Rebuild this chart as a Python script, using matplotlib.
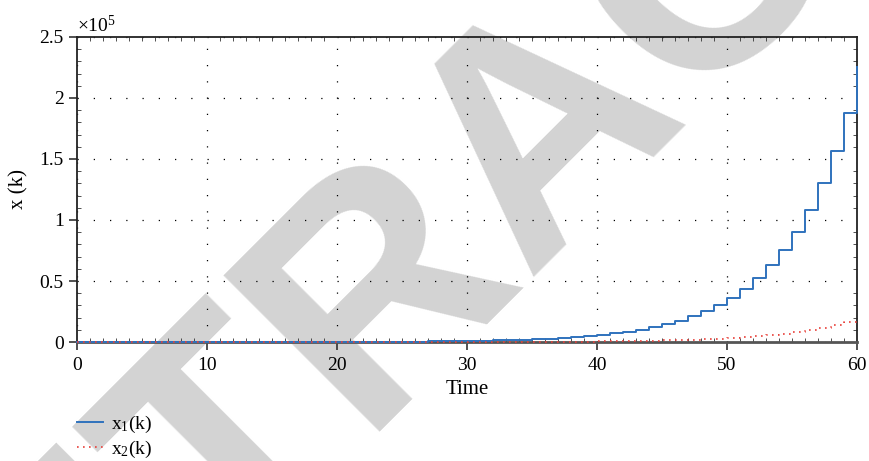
import numpy as np
import matplotlib
matplotlib.use("Agg")
import matplotlib.pyplot as plt
from matplotlib.ticker import MultipleLocator, FuncFormatter

plt.rcParams['font.family'] = ['Liberation Serif', 'DejaVu Serif']
plt.rcParams['mathtext.default'] = 'regular'
plt.rcParams['mathtext.fontset'] = 'custom'
plt.rcParams['mathtext.rm'] = 'Liberation Serif'

# time steps k = 0..60
k = list(range(61))

# x1(k)
x1 = [4, 5, 6, 7, 8, 10, 12, 14, 17, 21,
      25, 30, 36, 43, 51, 62, 74, 89, 106, 128,
      153, 184, 220, 265, 318, 381, 457, 549, 658, 790,
      948, 1138, 1365, 1638, 1966, 2359, 2830, 3396, 4076, 4891,
      5869, 7043, 8451, 10141, 12170, 14604, 17524, 21029, 25235, 30282,
      36339, 43606, 52328, 62793, 75352, 90422, 108507, 130208, 156250, 187500,
      225000]

# x2(k)
x2 = [1, 1, 1, 1, 1, 1, 1, 1, 2, 2,
      2, 3, 3, 4, 4, 5, 7, 8, 9, 11,
      14, 16, 20, 23, 28, 34, 40, 49, 58, 70,
      84, 101, 121, 145, 175, 210, 250, 300, 360, 430,
      520, 630, 750, 900, 1080, 1300, 1560, 1870, 2240, 2690,
      3230, 3880, 4650, 5580, 6700, 8040, 9650, 11600, 13900, 16700,
      20000]

xticks = [0, 10, 20, 30, 40, 50, 60]
yticks = [0, 0.5e5, 1e5, 1.5e5, 2e5, 2.5e5]

fig = plt.figure(figsize=(8.7, 4.61), dpi=100)
ax = fig.add_axes([0.0885, 0.258, 0.8965, 0.662])
ax.patch.set_alpha(0)

# watermark behind everything
fig.text(-0.1088, -0.9185, 'RETRACTED', rotation=45, fontsize=231, color='#d3d3d3',
         fontweight='bold', family='Liberation Sans', ha='left', va='baseline',
         rotation_mode='anchor', zorder=-10)

ax.plot(k, x1, drawstyle='steps-post', color='#2f72bd', lw=1.4,
        label='x$_1$(k)', zorder=3, clip_on=False)
ax.plot(k, x2, drawstyle='steps-post', color='#e8403a', lw=1.2,
        linestyle=(0, (1, 2.6)), label='x$_2$(k)', zorder=3, clip_on=False)

ax.set_xlim(0, 60)
ax.set_ylim(0, 2.5e5)
ax.set_xticks(xticks)
ax.set_yticks(yticks)
ax.xaxis.set_minor_locator(MultipleLocator(1))
ax.yaxis.set_minor_locator(MultipleLocator(0.1e5))
ax.yaxis.set_major_formatter(FuncFormatter(lambda v, p: '{:g}'.format(v / 1e5)))
ax.text(0.0, 1.003, r'$\times10^{5}$', transform=ax.transAxes, fontsize=14,
        ha='left', va='bottom')

ax.tick_params(which='major', direction='out', length=6, width=1.2,
               labelsize=14, color='#333333')
ax.tick_params(axis='x', which='major', pad=5)
ax.tick_params(which='minor', direction='in', length=3, width=0.6,
               top=True, right=True, color='#333333')
for s in ax.spines.values():
    s.set_color('#222222')
    s.set_linewidth(1.3)
ax.spines['bottom'].set_color('#555555')
ax.spines['bottom'].set_linewidth(2)

ax.grid(True, which='major', color='black', linestyle=(0, (1, 12)), linewidth=0.9)

ax.set_xlabel('Time', fontsize=15, labelpad=4)
ax.set_ylabel('x (k)', fontsize=15, labelpad=8)

ax.legend(loc='upper left', bbox_to_anchor=(0.088, 0.103),
          bbox_transform=fig.transFigure, frameon=False, fontsize=14,
          handlelength=1.35, handletextpad=0.4, labelspacing=0.2,
          borderpad=0, borderaxespad=0)

fig.savefig('out.png', dpi=100)
